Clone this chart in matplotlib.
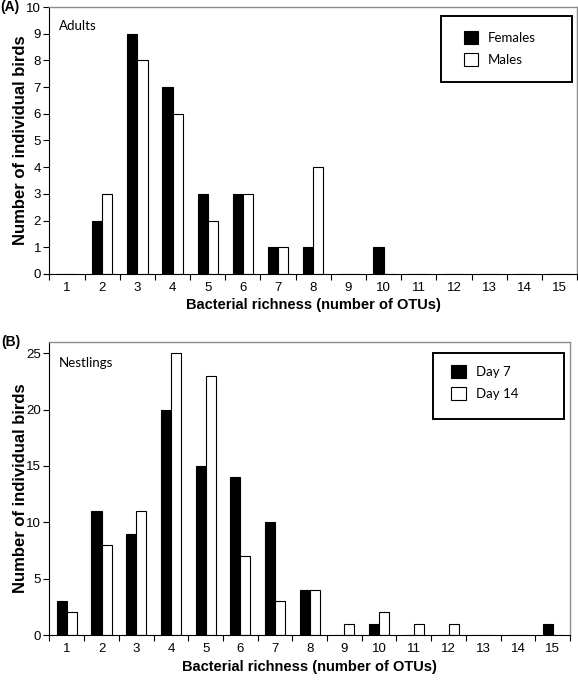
import numpy as np
import matplotlib.pyplot as plt
from matplotlib.patches import Rectangle

richness = list(range(1, 16))

# Panel A: adults
females = [0, 2, 9, 7, 3, 3, 1, 1, 0, 1, 0, 0, 0, 0, 0]
males = [0, 3, 8, 6, 2, 3, 1, 4, 0, 0, 0, 0, 0, 0, 0]

# Panel B: nestlings
day7 = [3, 11, 9, 20, 15, 14, 10, 4, 0, 1, 0, 0, 0, 0, 1]
day14 = [2, 8, 11, 25, 23, 7, 3, 4, 1, 2, 1, 1, 0, 0, 0]

TICK_FONT = "Liberation Sans"
TEXT_FONT = "Lato"

fig = plt.figure(figsize=(5.78, 6.81), dpi=100)


def draw_panel(ax, s1, s2, names, ymax, yticks, tag, note, box, hpos, ylab_x):
    x = np.array(richness)
    w = 0.29
    ax.bar(x - w / 2, s1, width=w, color="black", edgecolor="black", linewidth=0.8, label=names[0])
    ax.bar(x + w / 2, s2, width=w, color="white", edgecolor="black", linewidth=0.8, label=names[1])
    ax.set_xlim(0.5, 15.5)
    ax.set_ylim(0, ymax)
    ax.set_yticks(yticks)
    ax.set_xticks(richness)
    ax.set_xticks(np.arange(0.5, 15.6, 1), minor=True)
    ax.tick_params(axis="x", which="major", length=0, pad=6)
    ax.tick_params(axis="x", which="minor", length=4, width=0.8, direction="out")
    ax.tick_params(axis="y", length=4, width=0.8, direction="out", pad=2)
    for lab in ax.get_xticklabels() + ax.get_yticklabels():
        lab.set_fontfamily(TICK_FONT)
        lab.set_fontsize(9.5)
    for s in ["top", "right"]:
        ax.spines[s].set_color("#8c8c8c")
        ax.spines[s].set_linewidth(1.0)
    for s in ["left", "bottom"]:
        ax.spines[s].set_color("black")
        ax.spines[s].set_linewidth(0.8)
    ax.set_xlabel("Bacterial richness (number of OTUs)", fontfamily=TICK_FONT,
                  fontweight="bold", fontsize=10.5, labelpad=3)
    ax.set_ylabel("Number of individual birds", fontfamily=TICK_FONT,
                  fontweight="bold", fontsize=12)
    ax.yaxis.set_label_coords(ylab_x, 0.5)
    ax.text(0.018, 0.93, note, transform=ax.transAxes, fontfamily=TEXT_FONT,
            fontsize=9.5, va="center", ha="left")
    ax.text(-0.093, 1.0, tag, transform=ax.transAxes, fontfamily=TICK_FONT,
            fontweight="bold", fontsize=10, va="center", ha="left")
    x0, y0, x1, y1 = box
    ax.add_patch(Rectangle((x0, y0), x1 - x0, y1 - y0, transform=ax.transAxes,
                           fill=False, edgecolor="black", linewidth=1.4, clip_on=False))
    leg = ax.legend(loc="upper left", bbox_to_anchor=hpos, frameon=False,
                    handlelength=1.1, handleheight=1.1, handletextpad=0.75,
                    labelspacing=0.7, borderpad=0, borderaxespad=0,
                    prop={"family": TEXT_FONT, "size": 9.5})
    return leg


ax1 = fig.add_axes([0.0856, 0.5977, 0.9127, 0.392])
draw_panel(ax1, females, males, ["Females", "Males"], 10, range(0, 11),
           "(A)", "Adults", (0.742, 0.719, 0.9905, 0.966), (0.785, 0.91), -0.041)

ax2 = fig.add_axes([0.0856, 0.0675, 0.9005, 0.4303])
draw_panel(ax2, day7, day14, ["Day 7", "Day 14"], 26, range(0, 26, 5),
           "(B)", "Nestlings", (0.737, 0.737, 0.988, 0.962), (0.772, 0.92), -0.042)

fig.savefig("out.png", dpi=100)
